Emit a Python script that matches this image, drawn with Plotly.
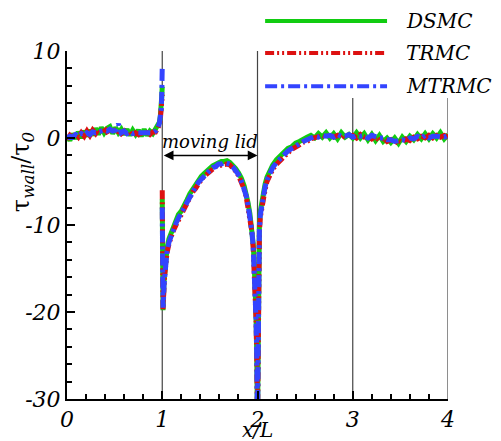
import plotly.graph_objects as go

# ---------------- data ----------------
series_names = ["DSMC", "TRMC", "MTRMC"]
series_colors = ["#11cc11", "#dd1111", "#3344ff"]
series_dash = ["solid", "9px,3px,2px,3px,2px,3px", "12px,4px,3px,4px"]

# segment A: stationary wall, 0 <= x/L <= 1
xA = [0.00, 0.03, 0.06, 0.09, 0.12, 0.15, 0.18, 0.21, 0.24, 0.27, 0.30, 0.33, 0.36,
      0.39, 0.42, 0.45, 0.48, 0.51, 0.54, 0.57, 0.60, 0.63, 0.66, 0.69, 0.72, 0.75,
      0.78, 0.81, 0.84, 0.87, 0.90, 0.93, 0.95, 0.97, 0.98, 0.99, 0.995, 1.0]
dsmc_A = [0.3, -0.3, 0.5, -0.1, 0.7, 0.0, 0.8, 0.2, 0.9, 0.3, 1.1, 0.4, 1.2, 0.6, 1.1, 1.3,
          0.5, 1.2, 0.6, 1.0, 0.4, 1.0, 0.3, 0.9, 0.4, 0.9, 0.2, 1.0, 0.3, 0.8, 0.5, 1.0,
          1.3, 1.8, 2.5, 3.5, 4.8, 5.9]
trmc_A = [-0.2, 0.3, 0.0, 0.5, 0.1, 0.6, 0.2, 0.8, 0.3, 0.9, 0.5, 1.0, 0.6, 1.2, 0.7, 0.9,
          1.1, 0.6, 0.9, 0.5, 0.8, 0.4, 0.8, 0.3, 0.6, 0.4, 0.7, 0.3, 0.6, 0.4, 0.7, 0.7,
          1.0, 1.5, 2.2, 3.0, 4.2, 5.0]
mtrmc_A = [0.0, 0.2, 0.1, 0.4, 0.2, 0.5, 0.3, 0.6, 0.4, 0.7, 0.6, 0.7, 0.8, 0.9, 0.8, 1.0,
           0.8, 0.9, 1.6, 0.6, 0.8, 0.5, 0.7, 0.5, 0.6, 0.6, 0.5, 0.6, 0.5, 0.6, 0.6, 0.8,
           1.1, 1.7, 2.4, 3.4, 5.0, 8.2]

# segment B: moving lid, 1 <= x/L <= 2
xB = [1.0, 1.002, 1.005, 1.008, 1.012, 1.018, 1.025, 1.035, 1.05, 1.07, 1.09, 1.11, 1.14,
      1.17, 1.20, 1.23, 1.26, 1.29, 1.32, 1.35, 1.38, 1.41, 1.44, 1.47, 1.50, 1.53, 1.56,
      1.59, 1.62, 1.65, 1.68, 1.71, 1.74, 1.77, 1.80, 1.83, 1.86, 1.88, 1.90, 1.92, 1.94,
      1.955, 1.965, 1.975, 1.985, 1.992, 1.997, 2.0]
dsmc_B = [-7, -11, -16, -19.8, -18.6, -16.6, -15.2, -13.8, -12.7, -11.6, -11.0, -10.2, -9.7,
          -8.8, -8.4, -7.6, -7.1, -6.4, -5.9, -5.3, -4.9, -4.4, -4.1, -3.7, -3.5, -3.2, -3.0,
          -2.9, -2.7, -2.7, -2.6, -2.8, -3.1, -3.5, -4.0, -4.6, -5.5, -6.3, -7.4, -8.7, -10.3,
          -12.2, -14.3, -16.8, -20.5, -25, -29, -33]
trmc_B = [-6, -9.5, -14.5, -19.7, -19.2, -17.3, -15.8, -14.5, -13.2, -12.2, -11.4, -10.8,
          -10.1, -9.4, -8.7, -8.1, -7.4, -6.9, -6.2, -5.8, -5.2, -4.8, -4.4, -4.1, -3.8, -3.6,
          -3.3, -3.2, -3.1, -3.0, -3.0, -3.1, -3.4, -3.8, -4.3, -5.0, -5.9, -6.7, -7.8, -9.1,
          -10.7, -12.6, -14.7, -17.2, -21, -25, -29, -33]
mtrmc_B = [-8, -12, -16, -19.5, -19, -17, -15.6, -14.2, -13.0, -12.0, -11.3, -10.6, -9.9,
           -9.2, -8.6, -7.9, -7.3, -6.6, -6.1, -5.6, -5.1, -4.7, -4.3, -3.9, -3.7, -3.4, -3.3,
           -3.0, -3.0, -2.8, -2.9, -3.0, -3.3, -3.7, -4.2, -4.9, -5.8, -6.6, -7.7, -9.0, -10.6,
           -12.5, -14.5, -17, -21, -25, -29, -33]

# segment C: stationary wall, 2 <= x/L <= 4
xC = [2.0, 2.003, 2.007, 2.012, 2.02, 2.03, 2.045, 2.06, 2.08, 2.10, 2.13, 2.16, 2.20, 2.24,
      2.28, 2.32, 2.36, 2.40, 2.44, 2.48, 2.52, 2.56, 2.60, 2.64, 2.68,
      2.72, 2.76, 2.80, 2.84, 2.88, 2.92, 2.96, 3.00, 3.04, 3.08, 3.12, 3.16, 3.20, 3.24,
      3.28, 3.32, 3.36, 3.40, 3.44, 3.48, 3.52, 3.56, 3.60, 3.64, 3.68, 3.72, 3.76, 3.80,
      3.84, 3.88, 3.92, 3.96, 4.00]
dsmc_C = [-33, -23, -16, -12.5, -10, -8.4, -7.2, -6.2, -5.3, -4.5, -3.7, -3.1, -2.5, -2.1,
          -1.6, -1.2, -1.0, -0.6, -0.4, -0.1, 0.1, 0.3, 0.0, 0.5, 0.1,
          0.6, 0.0, 0.5, -0.1, 0.6, 0.1, 0.4, 0.0, 0.6, 0.0, 0.5, -0.2, 0.4, -0.3, 0.3, -0.4,
          0.0, -0.5, 0.0, -0.6, 0.1, -0.4, 0.2, -0.2, 0.4, -0.1, 0.5, -0.1, 0.5, 0.0, 0.6,
          -0.1, 0.4]
trmc_C = [-33, -24.5, -17.5, -13.5, -10.8, -9.1, -7.9, -6.9, -5.9, -5.0, -4.2, -3.6, -3.0,
          -2.5, -2.1, -1.7, -1.3, -1.1, -0.8, -0.5, -0.4, -0.1, 0.0, 0.1, 0.3,
          0.1, 0.4, 0.1, 0.3, 0.0, 0.4, 0.1, 0.3, 0.0, 0.4, 0.1, 0.2, -0.1, 0.2, -0.3, 0.0,
          -0.4, -0.2, -0.6, -0.3, -0.5, -0.1, -0.3, 0.1, -0.1, 0.2, 0.0, 0.3, 0.0, 0.3, 0.1,
          0.3, 0.1]
mtrmc_C = [-33, -24, -17, -13, -10.5, -8.8, -7.6, -6.6, -5.6, -4.8, -4.0, -3.4, -2.8, -2.3,
           -1.9, -1.5, -1.2, -0.9, -0.6, -0.4, -0.2, 0.0, 0.2, 0.1, 0.3,
           0.2, 0.3, 0.1, 0.4, 0.2, 0.2, 0.4, 0.1, 0.3, 0.2, 0.3, 0.0, 0.3, 0.1, 0.0, 0.0,
           -0.2, -0.2, -0.4, -0.3, -0.2, -0.3, 0.0, -0.1, 0.2, 0.0, 0.3, 0.0, 0.2, 0.2, 0.2,
           0.1, 0.3]

x_tickvals = [0, 1, 2, 3, 4]
x_ticktext = ["0", "1", "2", "3", "4"]
y_tickvals = [-30, -20, -10, 0, 10]
y_ticktext = ["-30", "-20", "-10", "0", "10"]
grid_x = [1, 2, 3, 4]
lid_start, lid_end, lid_level = 1, 2, -2

# ---------------- figure ----------------
SERIF = "DejaVu Serif"
fig = go.Figure()

all_y = [(dsmc_A, dsmc_B, dsmc_C), (trmc_A, trmc_B, trmc_C), (mtrmc_A, mtrmc_B, mtrmc_C)]
for name, color, dash, (ya, yb, yc) in zip(series_names, series_colors, series_dash, all_y):
    xs = xA + [None] + xB + [None] + xC
    ys = ya + [None] + yb + [None] + yc
    fig.add_trace(go.Scatter(x=xs, y=ys, mode="lines", name=name, connectgaps=False,
                             line=dict(color=color, width=5, dash=dash),
                             showlegend=False, hoverinfo="skip"))

# vertical reference lines
for gx in grid_x:
    top = 1.0 if gx <= 2 else 0.865
    fig.add_shape(type="line", xref="x", yref="paper", x0=gx, x1=gx, y0=0, y1=top,
                  line=dict(color="#444444", width=1.2), layer="below")

# double arrow "moving lid"
fig.add_annotation(x=lid_end, y=lid_level, ax=lid_start, ay=lid_level, xref="x", yref="y",
                   axref="x", ayref="y", text="", showarrow=True, arrowhead=2,
                   startarrowhead=2, arrowside="end+start", arrowsize=1.3, arrowwidth=1.5,
                   startarrowsize=1.3, arrowcolor="black")
fig.add_annotation(x=(lid_start + lid_end) / 2, y=-0.4, xref="x", yref="y",
                   text="moving lid", showarrow=False,
                   font=dict(family=SERIF, size=18, color="black", style="italic"))

# manual legend
leg_y = [1.086, 0.994, 0.899]
for name, color, dash, ly in zip(series_names, series_colors, series_dash, leg_y):
    fig.add_shape(type="line", xref="paper", yref="paper", x0=0.52, x1=0.84, y0=ly, y1=ly,
                  line=dict(color=color, width=4, dash=dash))
    fig.add_annotation(x=0.885, y=ly, xref="paper", yref="paper", xanchor="left",
                       yanchor="middle", text=name, showarrow=False,
                       font=dict(family=SERIF, size=20, color="black", style="italic"))

# y title (rotated)
fig.add_annotation(x=-0.118, y=0.652, xref="paper", yref="paper", textangle=-90,
                   xanchor="center", yanchor="middle",
                   text="τ<sub><i>wall</i></sub>/τ<sub><i>0</i></sub>", showarrow=False,
                   font=dict(family=SERIF, size=24, color="black"))

# x title
fig.add_annotation(x=0.5, y=-0.088, xref="paper", yref="paper", yanchor="middle",
                   text="x/L", showarrow=False,
                   font=dict(family=SERIF, size=20, color="black", style="italic"))

axis_common = dict(showgrid=False, zeroline=False, showline=True, linecolor="black",
                   linewidth=2, ticks="inside", ticklen=8, tickwidth=2, tickcolor="black",
                   tickfont=dict(family=SERIF, size=22, color="black", style="italic"),
                   mirror=False, automargin=False)
fig.update_xaxes(range=[0, 4], tickvals=x_tickvals, ticktext=x_ticktext,
                 minor=dict(dtick=0.2, ticks="inside", ticklen=5, tickwidth=1.5,
                            tickcolor="black", showgrid=False),
                 **axis_common)
fig.update_yaxes(range=[-30, 10], tickvals=y_tickvals, ticktext=y_ticktext,
                 minor=dict(dtick=2, ticks="inside", ticklen=5, tickwidth=1.5,
                            tickcolor="black", showgrid=False),
                 **axis_common)

# page body has an 8px default margin, so the figure is a bit smaller than the window
fig.update_layout(width=493, height=433, plot_bgcolor="white", paper_bgcolor="white",
                  margin=dict(l=59, r=53, t=43, b=42), showlegend=False)

fig.write_html("out.html")
